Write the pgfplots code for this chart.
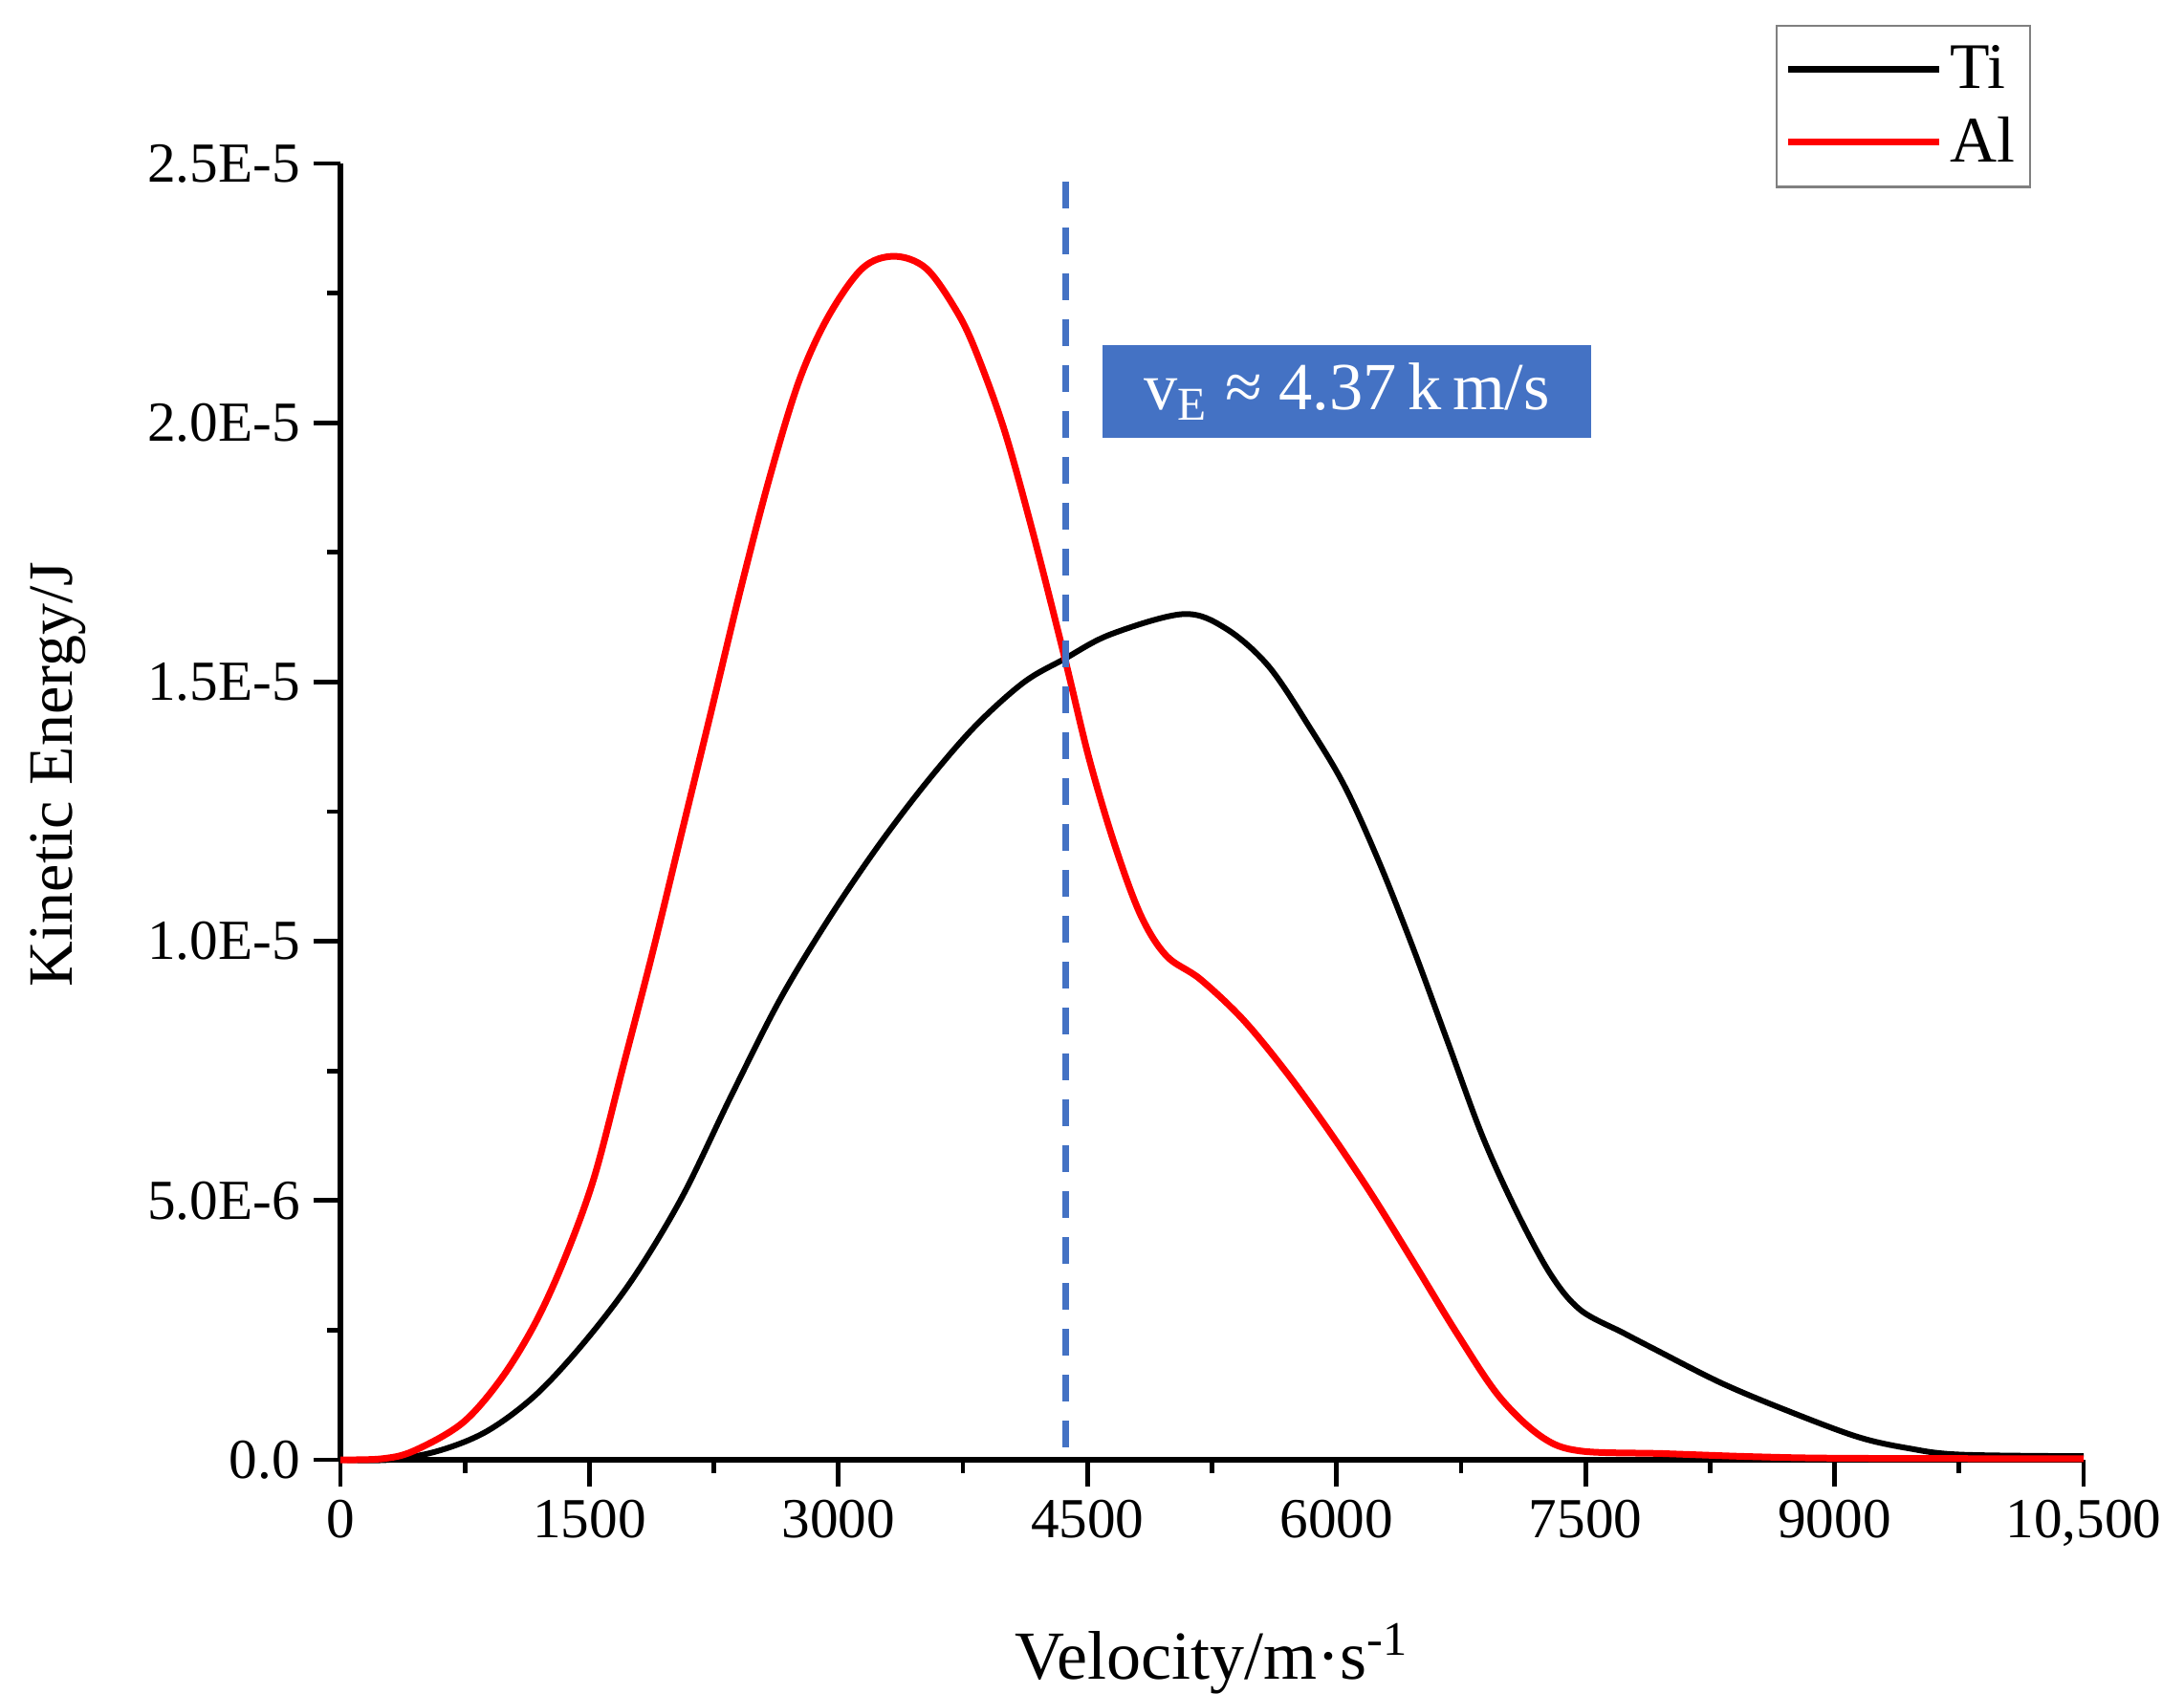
\documentclass[border=0pt]{standalone}
\usepackage{fontspec}
\setmainfont{Liberation Serif}
\usepackage{pgfplots}
\pgfplotsset{compat=1.18}
\definecolor{boxblue}{HTML}{4472C4}
\begin{document}
\begin{tikzpicture}
\useasboundingbox (-89pt,-61pt) rectangle (482pt,381.75pt);
\begin{axis}[
  at={(0pt,0pt)}, anchor=south west,
  scale only axis,
  width=455.75pt, height=339pt,
  xmin=0, xmax=10500, ymin=0, ymax=2.5e-5,
  axis lines*=left,
  axis line style={line width=1.5pt},
  clip=false,
  tick align=outside,
  major tick length=7pt, minor tick length=3.5pt,
  every tick/.style={black, line width=1.2pt},
  xtick={0,1500,3000,4500,6000,7500,9000,10500},
  xticklabels={0,1500,3000,4500,6000,7500,9000,{10,500}},
  ytick={0,5e-6,1e-5,1.5e-5,2e-5,2.5e-5},
  yticklabels={0.0,5.0E-6,1.0E-5,1.5E-5,2.0E-5,2.5E-5},
  minor x tick num=1, minor y tick num=1,
  scaled x ticks=false, scaled y ticks=false,
  tick label style={font=\fontsize{14.8}{16}\selectfont},
  /pgf/number format/assume math mode=true,
  xlabel={Velocity/m·s\textsuperscript{-1}},
  xlabel style={at={(axis description cs:0.5,-0.1696)}, anchor=base, font=\fontsize{18}{20}\selectfont},
  ylabel={Kinetic Energy/J},
  ylabel style={at={(axis description cs:-0.1541,0.5288)}, anchor=base, font=\fontsize{16.5}{19}\selectfont},
  legend style={at={(0.8234,1.1069)}, anchor=north west, draw=gray, line width=0.6pt,
    font=\fontsize{17}{20}\selectfont, inner xsep=2pt, inner ysep=3pt, row sep=2pt},
  legend cell align=left,
  legend image code/.code={\draw[#1, line width=1.7pt] (0pt,0pt) -- (39.5pt,0pt);},
]
\addplot[black, line width=1.5pt, smooth, tension=0.55] coordinates {
(0,0) (294,0) (588,0.17e-6) (882,0.55e-6) (1176,1.25e-6) (1470,2.27e-6)
(1763,3.50e-6) (2057,5.06e-6) (2351,7.00e-6) (2645,8.86e-6) (2939,10.42e-6)
(3233,11.81e-6) (3527,13.05e-6) (3821,14.14e-6) (4115,14.99e-6) (4364,15.45e-6)
(4640,15.92e-6) (5077,16.31e-6) (5334,16.03e-6) (5592,15.30e-6) (5849,14.07e-6)
(6054,12.96e-6) (6260,11.50e-6) (6466,9.83e-6) (6672,8.04e-6) (6878,6.25e-6)
(7083,4.80e-6) (7289,3.58e-6) (7469,2.89e-6) (7726,2.45e-6) (7906,2.15e-6)
(8318,1.48e-6) (8729,0.93e-6) (9141,0.44e-6) (9448,0.22e-6) (9757,0.10e-6)
(10500,0.07e-6)
};
\addlegendentry{Ti}
\addplot[red, line width=1.75pt, smooth, tension=0.55] coordinates {
(0,0) (250,0.02e-6) (441,0.17e-6) (735,0.71e-6) (970,1.57e-6) (1176,2.65e-6)
(1352,3.89e-6) (1528,5.44e-6) (1705,7.61e-6) (1881,9.79e-6) (2057,12.11e-6)
(2234,14.44e-6) (2410,16.78e-6) (2586,18.95e-6) (2763,20.81e-6) (2939,22.05e-6)
(3145,22.98e-6) (3336,23.21e-6) (3527,22.98e-6) (3703,22.20e-6) (3821,21.43e-6)
(3997,19.88e-6) (4173,17.86e-6) (4364,15.45e-6) (4511,13.51e-6) (4666,11.84e-6)
(4821,10.50e-6) (4975,9.72e-6) (5179,9.27e-6) (5437,8.49e-6) (5694,7.49e-6)
(5951,6.36e-6) (6209,5.13e-6) (6466,3.80e-6) (6723,2.45e-6) (6980,1.22e-6)
(7237,0.44e-6) (7469,0.17e-6) (7964,0.12e-6) (8508,0.06e-6) (9054,0.03e-6)
(10500,0.02e-6)
};
\addlegendentry{Al}
\addplot[boxblue, line width=1.75pt, dash pattern=on 7pt off 5pt, forget plot] coordinates {(4370,2.465e-5) (4370,0)};
\node[fill=boxblue, text=white, minimum width=127.75pt, minimum height=24.25pt, inner sep=0pt,
  font=\fontsize{17.6}{20}\selectfont] at (axis cs:6062,2.0603e-5)
  {v\textsubscript{E} ≈ 4.37\,k\,m/s};
\end{axis}
\end{tikzpicture}
\end{document}
